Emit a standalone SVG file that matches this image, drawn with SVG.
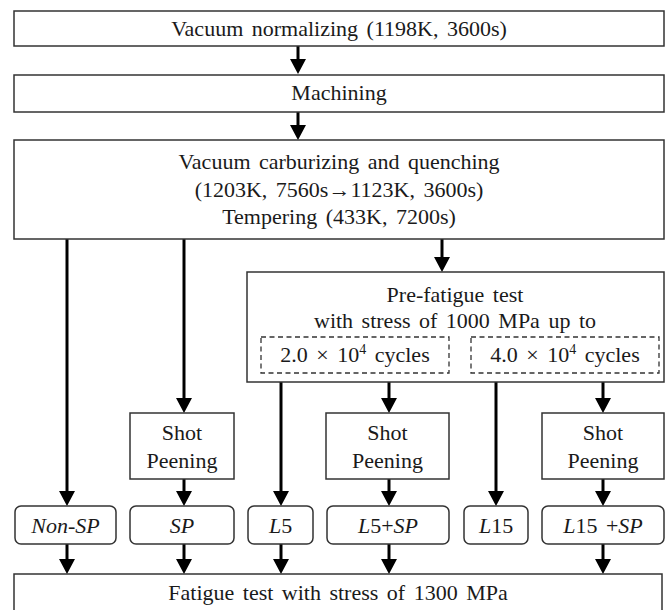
<svg xmlns="http://www.w3.org/2000/svg" width="669" height="610" viewBox="0 0 669 610">
<style>
  .box { fill: #ffffff; stroke: #333333; stroke-width: 1.5; }
  .dash { fill: none; stroke: #333333; stroke-width: 1.3; stroke-dasharray: 5 3.5; }
  .t { font-family: "Liberation Serif", "Times New Roman", serif; font-size: 22px; fill: #1a1a1a; text-anchor: middle; word-spacing: 3px; }
  .i { font-style: italic; }
  .c { fill: none; stroke: #000000; stroke-width: 3; marker-end: url(#ah); }
</style>
<defs>
  <marker id="ah" markerUnits="userSpaceOnUse" markerWidth="16" markerHeight="16" refX="0" refY="8" orient="auto" viewBox="0 0 16 16">
    <path d="M0,0 L15,8 L0,16 Z" fill="#000000"/>
  </marker>
</defs>
<rect x="0" y="0" width="669" height="610" fill="#ffffff"/>

<g id="connectors">
  <path class="c" d="M298,46 V59"/>
  <path class="c" d="M298,112 V125"/>
  <path class="c" d="M442,239 V257"/>
  <path class="c" d="M67,239 V491"/>
  <path class="c" d="M184,239 V398"/>
  <path class="c" d="M281,373 V491"/>
  <path class="c" d="M389,373 V398"/>
  <path class="c" d="M496,373 V491"/>
  <path class="c" d="M603,373 V398"/>
  <path class="c" d="M184,479 V491"/>
  <path class="c" d="M389,479 V491"/>
  <path class="c" d="M603,479 V491"/>
  <path class="c" d="M67,544 V559"/>
  <path class="c" d="M184,544 V559"/>
  <path class="c" d="M281,544 V559"/>
  <path class="c" d="M389,544 V559"/>
  <path class="c" d="M603,544 V559"/>
</g>

<g id="normalizing">
  <rect class="box" x="14" y="11" width="650" height="35"/>
  <text class="t" x="339" y="36">Vacuum normalizing (1198K, 3600s)</text>
</g>
<g id="machining">
  <rect class="box" x="14" y="75" width="650" height="37"/>
  <text class="t" x="339" y="100">Machining</text>
</g>
<g id="carburizing">
  <rect class="box" x="14" y="140" width="650" height="99"/>
  <text class="t" x="339" y="169">Vacuum carburizing and quenching</text>
  <text class="t" x="339" y="197">(1203K, 7560s→1123K, 3600s)</text>
  <text class="t" x="339" y="224">Tempering (433K, 7200s)</text>
</g>
<g id="prefatigue">
  <rect class="box" x="247" y="272" width="417" height="110"/>
  <text class="t" x="455" y="302">Pre-fatigue test</text>
  <text class="t" x="455" y="328">with stress of 1000 MPa up to</text>
</g>
<g id="cycles20">
  <rect class="dash" x="261" y="337" width="188" height="36"/>
  <text class="t" x="355" y="362">2.0 × 10<tspan dy="-8" font-size="14">4</tspan><tspan dy="8"> cycles</tspan></text>
</g>
<g id="cycles40">
  <rect class="dash" x="471" y="337" width="188" height="36"/>
  <text class="t" x="565" y="362">4.0 × 10<tspan dy="-8" font-size="14">4</tspan><tspan dy="8"> cycles</tspan></text>
</g>
<g id="sp1">
  <rect class="box" x="130" y="413" width="104" height="66"/>
  <text class="t" x="182" y="440">Shot</text>
  <text class="t" x="182" y="468">Peening</text>
</g>
<g id="sp2">
  <rect class="box" x="326" y="413" width="123" height="66"/>
  <text class="t" x="387.5" y="440">Shot</text>
  <text class="t" x="387.5" y="468">Peening</text>
</g>
<g id="sp3">
  <rect class="box" x="542" y="413" width="122" height="66"/>
  <text class="t" x="603" y="440">Shot</text>
  <text class="t" x="603" y="468">Peening</text>
</g>
<g id="nonsp">
  <rect class="box" x="15" y="506" width="101" height="38" rx="6"/>
  <text class="t i" x="65.5" y="533">Non-SP</text>
</g>
<g id="spl">
  <rect class="box" x="130" y="506" width="104" height="38" rx="6"/>
  <text class="t i" x="182" y="533">SP</text>
</g>
<g id="l5">
  <rect class="box" x="248" y="506" width="65" height="38" rx="6"/>
  <text class="t" x="280.5" y="533"><tspan class="i">L</tspan>5</text>
</g>
<g id="l5sp">
  <rect class="box" x="327" y="506" width="122" height="38" rx="6"/>
  <text class="t" x="388" y="533"><tspan class="i">L</tspan>5+<tspan class="i">SP</tspan></text>
</g>
<g id="l15">
  <rect class="box" x="464" y="506" width="64" height="38" rx="6"/>
  <text class="t" x="496" y="533"><tspan class="i">L</tspan>15</text>
</g>
<g id="l15sp">
  <rect class="box" x="542" y="506" width="122" height="38" rx="6"/>
  <text class="t" x="603" y="533"><tspan class="i">L</tspan>15 +<tspan class="i">SP</tspan></text>
</g>
<g id="fatigue">
  <rect class="box" x="14" y="574" width="648" height="45"/>
  <text class="t" x="338" y="600">Fatigue test with stress of 1300 MPa</text>
</g>
</svg>
